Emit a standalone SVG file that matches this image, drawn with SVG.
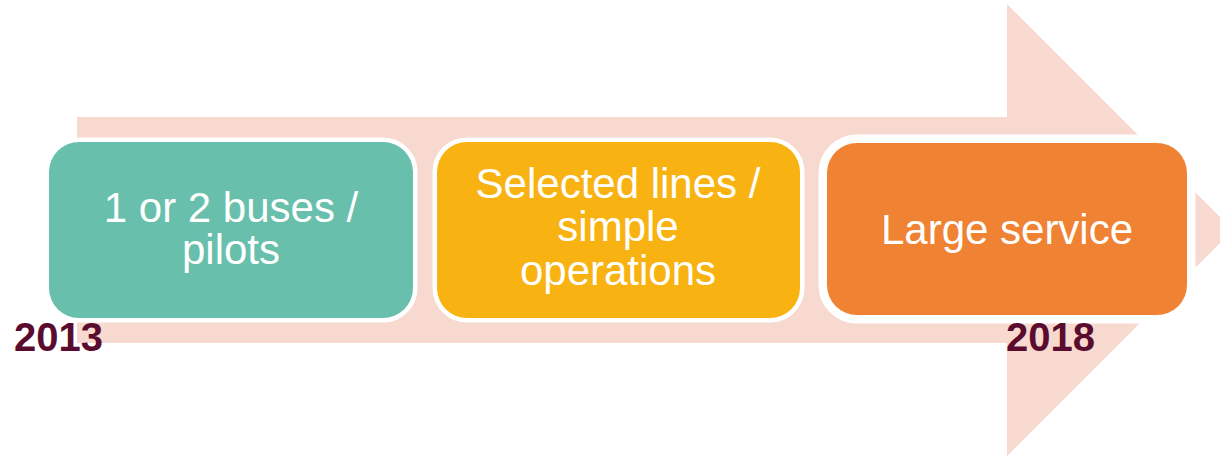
<svg xmlns="http://www.w3.org/2000/svg" width="1220" height="456" viewBox="0 0 1220 456">
<style>
.arrow{fill:#F8D9CF}
.box{stroke:#FFFFFF;stroke-width:9;paint-order:stroke}
.lbl{font-family:"Liberation Sans",Arial,sans-serif;font-size:42px;fill:#FFFFFF;text-anchor:middle}
.year{font-family:"Liberation Sans",Arial,sans-serif;font-size:40px;font-weight:bold;fill:#5A0C2E}
</style>
<rect width="1220" height="456" fill="#FFFFFF"/>
<g id="connectors">
<path class="arrow" d="M77,117 H1007 V4 L1233,230 L1007,456 V343 H77 Z"/>
</g>
<g id="node1">
<rect class="box" x="49" y="142" width="364" height="176" rx="30" fill="#68BFAC"/>
<text class="lbl" x="231" y="222">1 or 2 buses /</text>
<text class="lbl" x="231" y="264">pilots</text>
</g>
<g id="node2">
<rect class="box" x="437" y="142" width="363" height="176" rx="30" fill="#F8B312"/>
<text class="lbl" x="618" y="198">Selected lines /</text>
<text class="lbl" x="618" y="241">simple</text>
<text class="lbl" x="618" y="285">operations</text>
</g>
<g id="node3">
<rect x="827" y="143" width="360" height="172" rx="30" fill="#F08233" stroke="#FFFFFF" stroke-width="17" paint-order="stroke"/>
<text class="lbl" x="1007" y="244" font-size="44">Large service</text>
</g>
<g id="year2013">
<text class="year" x="14" y="351">2013</text>
</g>
<g id="year2018">
<text class="year" x="1006" y="351">2018</text>
</g>
</svg>
